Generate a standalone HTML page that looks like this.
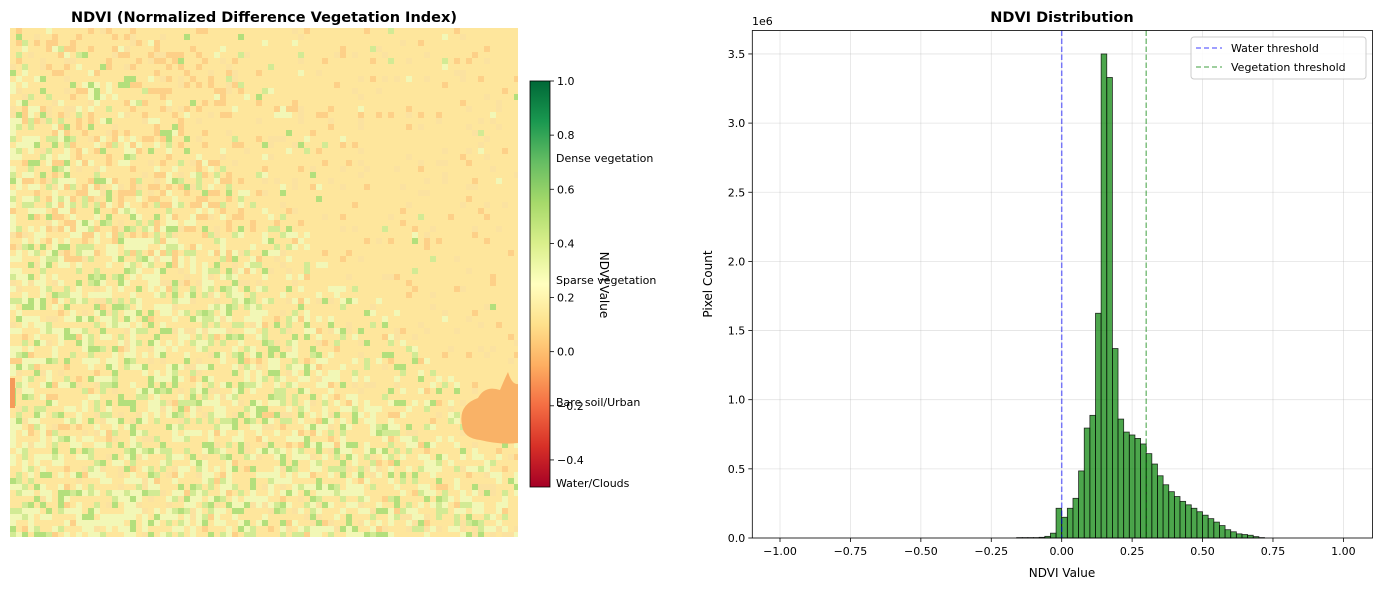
<!DOCTYPE html>
<html><head><meta charset="utf-8"><style>
body{margin:0;background:#fff;font-family:"Liberation Sans","DejaVu Sans",sans-serif;}
svg{display:block}
text{font-family:"DejaVu Sans","Liberation Sans",sans-serif;}
</style></head><body>
<svg id="fig" width="1382" height="590" viewBox="0 0 1382 590" xmlns="http://www.w3.org/2000/svg">
<defs>
<linearGradient id="cmap" x1="0" y1="1" x2="0" y2="0">
<stop offset="0" stop-color="#a50026"/><stop offset="0.1" stop-color="#d73027"/><stop offset="0.2" stop-color="#f46d43"/><stop offset="0.3" stop-color="#fdae61"/><stop offset="0.4" stop-color="#fee08b"/><stop offset="0.5" stop-color="#ffffbf"/><stop offset="0.6" stop-color="#d9ef8b"/><stop offset="0.7" stop-color="#a6d96a"/><stop offset="0.8" stop-color="#66bd63"/><stop offset="0.9" stop-color="#1a9850"/><stop offset="1" stop-color="#006837"/>
</linearGradient>
<clipPath id="mapclip"><rect x="10" y="28" width="508" height="509"/></clipPath>
</defs>
<text x="264" y="22" text-anchor="middle" font-size="14.5" font-weight="bold">NDVI (Normalized Difference Vegetation Index)</text>
<g id="map" clip-path="url(#mapclip)">
<rect x="10" y="28" width="508" height="509" fill="#fee69c"/>
</g>
<g id="cbar">
<rect x="530" y="81" width="20" height="406" fill="url(#cmap)" stroke="#000" stroke-width="0.8"/>
</g>
<text transform="translate(600,285) rotate(90)" text-anchor="middle" font-size="12">NDVI Value</text>
<text x="556" y="162" font-size="11">Dense vegetation</text>
<text x="556" y="284" font-size="11">Sparse vegetation</text>
<text x="556" y="406" font-size="11">Bare soil/Urban</text>
<text x="556" y="487" font-size="11">Water/Clouds</text>

<text x="1062" y="22" text-anchor="middle" font-size="14.5" font-weight="bold">NDVI Distribution</text>
<g id="hist"></g>
<text x="1062" y="577" text-anchor="middle" font-size="12">NDVI Value</text>
<text transform="translate(712,284) rotate(-90)" text-anchor="middle" font-size="12">Pixel Count</text>
<text x="752" y="25" font-size="11">1e6</text>
<g>
<rect x="1191" y="37" width="175" height="42" rx="3" fill="#fff" fill-opacity="0.85" stroke="#ccc"/>
<line x1="1196" y1="48" x2="1222" y2="48" stroke="#0000ff" stroke-opacity="0.5" stroke-width="1.5" stroke-dasharray="5,3"/>
<text x="1231" y="52" font-size="11">Water threshold</text>
<line x1="1196" y1="67" x2="1222" y2="67" stroke="#008000" stroke-opacity="0.5" stroke-width="1.5" stroke-dasharray="5,3"/>
<text x="1231" y="71" font-size="11">Vegetation threshold</text>
</g>
</svg>
<script>
// histogram data
const binStart = -0.16;
const binWidth = 0.02;
const counts = [0.003,0.003,0.003,0.003,0.005,0.012,0.035,0.215,0.15,0.215,0.287,0.485,0.795,0.887,1.625,3.50,3.33,1.37,0.86,0.766,0.745,0.72,0.68,0.61,0.535,0.45,0.385,0.335,0.30,0.265,0.24,0.215,0.19,0.165,0.14,0.115,0.09,0.06,0.045,0.03,0.025,0.02,0.01,0.003];
const xTicks = [-1.0,-0.75,-0.5,-0.25,0.0,0.25,0.5,0.75,1.0];
const xTickLabels = ["\u22121.00","\u22120.75","\u22120.50","\u22120.25","0.00","0.25","0.50","0.75","1.00"];
const yTicks = [0,0.5,1.0,1.5,2.0,2.5,3.0,3.5];
const yTickLabels = ["0.0","0.5","1.0","1.5","2.0","2.5","3.0","3.5"];
const thresholds = [0.0,0.3];
const cbTicks = [1.0,0.8,0.6,0.4,0.2,0.0,-0.2,-0.4];
const cbTickLabels = ["1.0","0.8","0.6","0.4","0.2","0.0","\u22120.2","\u22120.4"];

const NS="http://www.w3.org/2000/svg";
function mk(tag,attrs,parent){const e=document.createElementNS(NS,tag);for(const k in attrs)e.setAttribute(k,attrs[k]);parent.appendChild(e);return e;}
const L=752.3,R=1372.5,T=30.5,B=538;
const xs=v=>1061.7+v*281.7;
const ys=v=>B-v*138.3;
const g=document.getElementById('hist');
xTicks.forEach((t,i)=>{
  const gl=mk('line',{x1:xs(t),x2:xs(t),y1:T,y2:B,stroke:'#b0b0b0','stroke-opacity':0.35,'stroke-width':0.8},g);
  
  
  const tk=mk('line',{x1:xs(t),x2:xs(t),y1:B,y2:B+4,stroke:'#000','stroke-width':0.8},g);
  
  
  const tx=mk('text',{x:xs(t),y:B+17,'text-anchor':'middle','font-size':11},g);
  tx.textContent=xTickLabels[i];
  
  
});
yTicks.forEach((t,i)=>{
  const gl=mk('line',{x1:L,x2:R,y1:ys(t),y2:ys(t),stroke:'#b0b0b0','stroke-opacity':0.35,'stroke-width':0.8},g);
  
  
  const tk=mk('line',{x1:L-4,x2:L,y1:ys(t),y2:ys(t),stroke:'#000','stroke-width':0.8},g);
  
  
  const tx=mk('text',{x:L-7,y:ys(t)+4,'text-anchor':'end','font-size':11},g);
  tx.textContent=yTickLabels[i];
  
  
});
counts.forEach((c,i)=>{
  const x0=xs(binStart+i*binWidth),x1=xs(binStart+(i+1)*binWidth);
  const r=mk('rect',{x:x0,y:ys(c),width:x1-x0,height:B-ys(c),fill:'#008000','fill-opacity':0.7,stroke:'#000','stroke-opacity':0.8,'stroke-width':0.8},g);
  
  
});
const tcol=['#0000ff','#008000'];
thresholds.forEach((t,i)=>{
  const l=mk('line',{x1:xs(t),x2:xs(t),y1:T,y2:B,stroke:tcol[i],'stroke-opacity':0.5,'stroke-width':1.5,'stroke-dasharray':'5.5,2.5'},g);
  
  
});
const fr=mk('rect',{x:L,y:T,width:R-L,height:B-T,fill:'none',stroke:'#000','stroke-width':0.8},g);



const cb=document.getElementById('cbar');
const cs=v=>487-(v+0.5)*(406/1.5);
cbTicks.forEach((t,i)=>{
  const tk=mk('line',{x1:550,x2:554,y1:cs(t),y2:cs(t),stroke:'#000','stroke-width':0.8},cb);
  
  
  const tx=mk('text',{x:557,y:cs(t)+4,'font-size':11},cb);
  tx.textContent=cbTickLabels[i];
  
  
});

// map texture (image approximation)
const m=document.getElementById('map');
let seed=12345;function rnd(){seed=(seed*1103515245+12345)%2147483648;return seed/2147483648;}
const S=6;
for(let y=28;y<537;y+=S){for(let x=10;x<518;x+=S){
  const u=(x-10)/508,v=(y-28)/509;
  const d=v-u*0.9;
  const ag=d>0.1 ? 0.9 : (d>-0.1?0.45:(u>0.6?0.03:0.12));
  const urban=(u<0.45&&v<0.45)?0.35:0.08;
  const r=rnd();let col=null;
  if(r<ag*0.10)col='#b3df7c';else if(r<ag*0.22)col='#d2ea94';else if(r<ag*0.50)col='#f2f7b6';
  else if(r<ag*0.50+urban*0.45)col='#fdd088';
  else if(r<ag*0.50+urban*0.45+0.06)col='#fbe2a0';
  if(col){mk('rect',{x:x,y:y,width:S,height:S,fill:col},m);}
}}
const blob=mk('path',{d:'M462 425 Q458 405 478 398 Q485 385 500 390 Q505 378 508 372 Q512 385 518 384 L518 443 Q500 445 480 440 Q463 438 462 425Z',fill:'#f9b267'},m);


mk('rect',{x:10,y:378,width:5,height:30,fill:'#f59a5a'},m);
</script>
</body></html>
